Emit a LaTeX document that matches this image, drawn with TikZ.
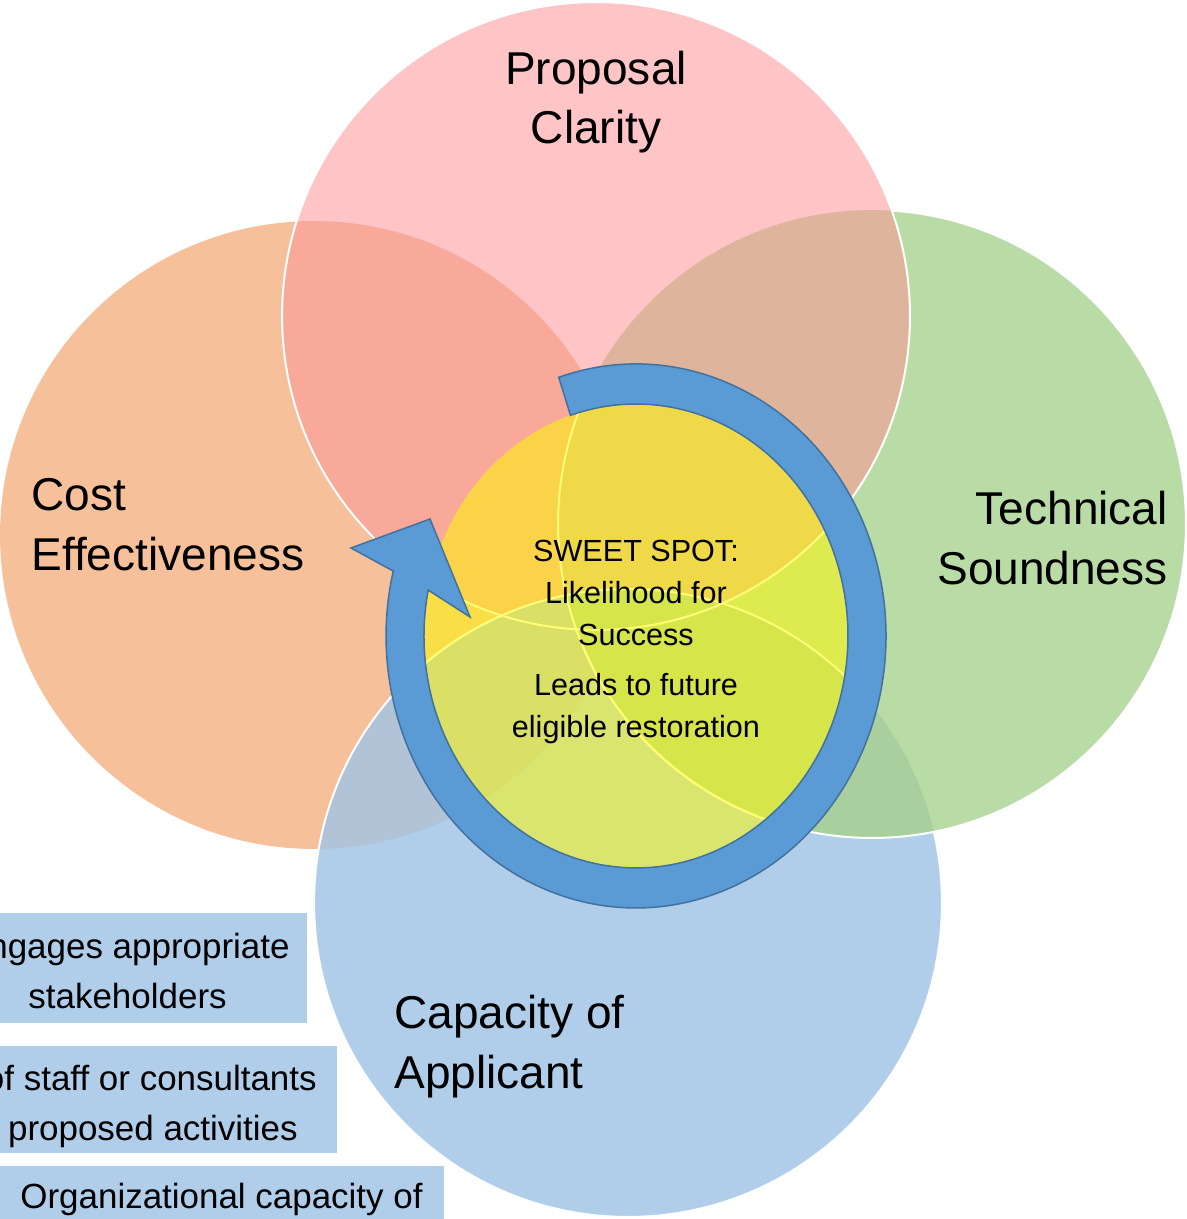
\documentclass[tikz,border=0pt]{standalone}
\usepackage{fontspec}
\setmainfont{Liberation Sans}
\definecolor{cOrange}{RGB}{245,192,154}
\definecolor{cPink}{RGB}{255,196,198}
\definecolor{cGreen}{RGB}{185,219,166}
\definecolor{cBlue}{RGB}{176,206,234}
\definecolor{cPO}{RGB}{248,169,153}
\definecolor{cPG}{RGB}{222,180,157}
\definecolor{cBO}{RGB}{177,195,215}
\definecolor{cGB}{RGB}{169,207,159}
\definecolor{cYellow}{RGB}{255,250,0}
\definecolor{cArrow}{RGB}{91,155,213}
\definecolor{cArrowEdge}{RGB}{65,113,156}
\begin{document}
\begin{tikzpicture}[x=0.02cm,y=0.02cm,
  ring/.style={draw=white, line width=0.04cm},
  big/.style={font=\fontsize{26.2pt}{34.1pt}\selectfont, inner sep=0pt, text=black},
  mid/.style={font=\fontsize{17.4pt}{23.9pt}\selectfont, inner sep=0pt, text=black},
  boxbg/.style={fill=cBlue, draw=none, inner sep=0pt},
  boxtxt/.style={font=\fontsize{19.9pt}{28.45pt}\selectfont, inner sep=0pt, text=black},
  spiral/.style={draw=cArrowEdge, fill=cArrow, line width=0.03cm, line join=miter}]
\useasboundingbox (0,0) rectangle (1186,-1219);
\clip (0,0) rectangle (1186,-1219);
\coordinate (cP) at (596,-316);
\coordinate (cO) at (314,-535);
\coordinate (cG) at (872,-524);
\coordinate (cB) at (628,-903);
\coordinate (cS) at (636,-636);
% single fills
\fill[cOrange] (cO) circle[radius=6.28cm];
\fill[cBlue] (cB) circle[radius=6.28cm];
\fill[cGreen] (cG) circle[radius=6.28cm];
\fill[cPink] (cP) circle[radius=6.28cm];
% overlaps
\begin{scope}
  \clip (cP) circle[radius=6.28cm];
  \fill[cPO] (cO) circle[radius=6.28cm];
  \fill[cPG] (cG) circle[radius=6.28cm];
\end{scope}
\begin{scope}
  \clip (cB) circle[radius=6.28cm];
  \fill[cBO] (cO) circle[radius=6.28cm];
  \fill[cGB] (cG) circle[radius=6.28cm];
\end{scope}
% white outlines
\draw[ring] (cP) circle[radius=6.28cm];
\begin{scope}
  \clip (-20,20) -- (1210,20) -- (1210,-1240) -- (-20,-1240) -- cycle (cP) circle[radius=6.28cm];
  \draw[ring] (cG) circle[radius=6.28cm];
  \begin{scope}
    \clip (-20,20) -- (1210,20) -- (1210,-1240) -- (-20,-1240) -- cycle (cG) circle[radius=6.28cm];
    \draw[ring] (cB) circle[radius=6.28cm];
  \end{scope}
\end{scope}
\begin{scope}
  \clip (cS) ellipse[x radius=4.24cm, y radius=4.64cm];
  \draw[ring] (cG) circle[radius=6.28cm];
  \draw[ring] (cB) circle[radius=6.28cm];
\end{scope}
% sweet spot
\fill[cYellow, fill opacity=0.53] (cS) ellipse[x radius=4.24cm, y radius=4.64cm];
% circular arrow
\draw[spiral] (558.75,-377.31) arc[start angle=108, end angle=-193.8, x radius=5cm, y radius=5.44cm]
  -- (351,-548) -- (430,-519) -- (470,-617) -- (428.2,-590.1)
  arc[start angle=-191.4, end angle=108, x radius=4.24cm, y radius=4.64cm] -- cycle;
% labels (anchor base = baseline of the last line)
\node[big, align=center, anchor=base] (lblP) at (596,-144) {Proposal\\Clarity};
\node[big, align=left, anchor=base west] (lblO) at (31,-570) {Cost\\Effectiveness};
\node[big, align=right, anchor=base east] (lblG) at (1168,-584) {Technical\\Soundness};
\node[big, align=left, anchor=base west] (lblB) at (394,-1088) {Capacity of\\Applicant};
\node[mid, align=center, anchor=base] (lblS) at (636,-737) {SWEET SPOT:\\Likelihood for\\Success\\[0.16cm]Leads to future\\eligible restoration};
% side boxes
\node[boxbg, minimum width=8cm, minimum height=2.2cm, anchor=north east] (box1) at (307,-913) {};
\node[boxbg, minimum width=8cm, minimum height=2.14cm, anchor=north east] (box2) at (337,-1046) {};
\node[boxbg, minimum width=9.5cm, minimum height=1.6cm, anchor=north east] (box3) at (444,-1166) {};
\node[boxtxt, align=right, anchor=base east] (txt1) at (290,-1008) {ngages appropriate\\stakeholders\rule{1.26cm}{0pt}};
\node[boxtxt, align=right, anchor=base east] (txt2) at (317,-1140) {of staff or consultants\\proposed activities\rule{0.38cm}{0pt}};
\node[boxtxt, anchor=base east] (txt3) at (423,-1208) {Organizational capacity of};
\end{tikzpicture}
\end{document}
